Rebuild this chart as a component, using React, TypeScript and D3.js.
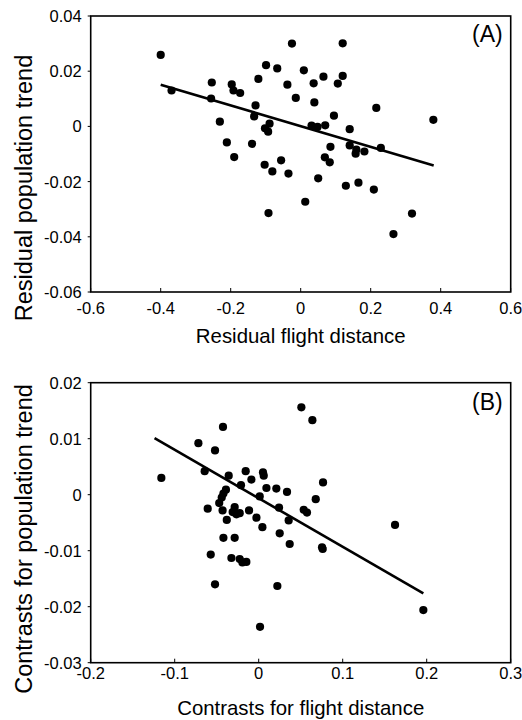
import React from 'react';
import * as d3 from 'd3';

// panel A: residuals
const aX = [-0.400, -0.369, -0.254, -0.256, -0.231, -0.211, -0.197, -0.192, -0.173, -0.190,
  -0.121, -0.129, -0.133, -0.139, -0.099, -0.067, -0.025, -0.038, -0.014, -0.102,
  -0.089, -0.093, -0.103, -0.081, -0.092, -0.056, -0.035, 0.009, 0.037, 0.039,
  0.065, 0.120, 0.120, 0.106, 0.095, 0.031, 0.048, 0.070, 0.140, 0.085,
  0.069, 0.083, 0.050, 0.013, 0.140, 0.159, 0.157, 0.182, 0.229, 0.216,
  0.129, 0.165, 0.209, 0.265, 0.318, 0.379];
const aY = [0.0259, 0.0130, 0.0159, 0.0101, 0.0017, -0.0058, 0.0152, 0.0130, 0.0121, -0.0111,
  0.0172, 0.0076, 0.0036, -0.0063, 0.0222, 0.0210, 0.0300, 0.0151, 0.0103, -0.0007,
  0.0010, -0.0019, -0.0139, -0.0163, -0.0314, -0.0123, -0.0171, 0.0203, 0.0156, 0.0087,
  0.0180, 0.0301, 0.0183, 0.0155, 0.0039, 0.0003, -0.0002, 0.0004, -0.0010, -0.0074,
  -0.0112, -0.0130, -0.0188, -0.0273, -0.0069, -0.0084, -0.0099, -0.0091, -0.0078, 0.0067,
  -0.0215, -0.0204, -0.0229, -0.0390, -0.0316, 0.0024];
const aFitX = [-0.400, 0.380];
const aFitY = [0.0151, -0.0142];
const aXTicks = [-0.6, -0.4, -0.2, 0, 0.2, 0.4, 0.6];
const aXLabels = ['-0.6', '-0.4', '-0.2', '0', '0.2', '0.4', '0.6'];
const aYTicks = [0.04, 0.02, 0, -0.02, -0.04, -0.06];
const aYLabels = ['0.04', '0.02', '0', '-0.02', '-0.04', '-0.06'];

// panel B: contrasts
const bX = [-0.1159, -0.0718, -0.0520, -0.0425, -0.0643, -0.0357, -0.0155, -0.0087, 0.0051, 0.0060,
  -0.0211, -0.0390, -0.0420, -0.0440, -0.0470, -0.0430, -0.0607, -0.0380, -0.0286, -0.0310,
  -0.0226, -0.0265, -0.0115, 0.0092, 0.0210, 0.0337, 0.0012, 0.0242, -0.0027, 0.0044,
  0.0357, 0.0250, 0.0369, 0.0536, 0.0575, -0.0420, -0.0286, -0.0571, -0.0325, -0.0226,
  -0.0194, -0.0147, -0.0520, 0.0222, 0.0016, 0.0508, 0.0639, 0.0766, 0.0679, 0.0754,
  0.0762, 0.1623, 0.1960];
const bY = [0.0030, 0.0092, 0.0079, 0.0121, 0.0042, 0.0034, 0.0042, 0.0027, 0.0040, 0.0034,
  0.0017, 0.0009, 0.0002, -0.0005, -0.0015, -0.0028, -0.0025, -0.0045, -0.0022, -0.0031,
  -0.0033, -0.0035, -0.0028, 0.0012, 0.0011, 0.0005, -0.0003, -0.0023, -0.0041, -0.0058,
  -0.0046, -0.0069, -0.0088, -0.0027, -0.0032, -0.0077, -0.0077, -0.0107, -0.0113, -0.0115,
  -0.0121, -0.0120, -0.0160, -0.0163, -0.0236, 0.0156, 0.0133, 0.0022, -0.0008, -0.0094,
  -0.0097, -0.0054, -0.0206];
const bFitX = [-0.124, 0.196];
const bFitY = [0.0101, -0.0176];
const bXTicks = [-0.2, -0.1, 0, 0.1, 0.2, 0.3];
const bXLabels = ['-0.2', '-0.1', '0', '0.1', '0.2', '0.3'];
const bYTicks = [0.02, 0.01, 0, -0.01, -0.02, -0.03];
const bYLabels = ['0.02', '0.01', '0', '-0.01', '-0.02', '-0.03'];

const font = 'Liberation Sans, Arial, Helvetica, sans-serif';

type PanelProps = {
  xs: number[]; ys: number[]; fitX: number[]; fitY: number[];
  xTicks: number[]; xLabels: string[]; yTicks: number[]; yLabels: string[];
  top: number; bottom: number; xLabelGap: number;
  tag: string; tagY: number; xTitle: string; xTitleY: number; yTitle: string; yTitleY: number;
};

const left = 90.7;
const right = 510.7;

function Panel(p: PanelProps) {
  const x = d3.scaleLinear().domain(d3.extent(p.xTicks) as [number, number]).range([left, right]);
  const y = d3.scaleLinear().domain(d3.extent(p.yTicks) as [number, number]).range([p.bottom, p.top]);
  const fit = d3.line<number>().x((d) => x(p.fitX[d])).y((d) => y(p.fitY[d]));

  return (
    <g fontFamily={font} fill="#000">
      <rect x={left} y={p.top} width={right - left} height={p.bottom - p.top}
        fill="none" stroke="#000" strokeWidth={1.6} />
      {p.xTicks.map((t, i) => (
        <g key={'x' + i}>
          <line x1={x(t)} x2={x(t)} y1={p.bottom} y2={p.bottom - 4} stroke="#000" strokeWidth={1} />
          <text x={x(t)} y={p.bottom + p.xLabelGap} textAnchor="middle" fontSize={16.5}>{p.xLabels[i]}</text>
        </g>
      ))}
      {p.yTicks.map((t, i) => (
        <g key={'y' + i}>
          <line x1={left - 3} x2={left} y1={y(t)} y2={y(t)} stroke="#000" strokeWidth={1} />
          <text x={81.7} y={y(t)} dy="0.36em" textAnchor="end" fontSize={16.5}>{p.yLabels[i]}</text>
        </g>
      ))}
      <path d={fit([0, 1]) || ''} stroke="#000" strokeWidth={2.6} fill="none" />
      {p.xs.map((v, i) => (
        <circle key={'p' + i} cx={x(v)} cy={y(p.ys[i])} r={4.1} fill="#000" />
      ))}
      <text x={502.7} y={p.tagY} textAnchor="end" fontSize={23}>{p.tag}</text>
      <text x={(left + right) / 2} y={p.xTitleY} textAnchor="middle" fontSize={20.4}>{p.xTitle}</text>
      <text transform={`translate(32,${p.yTitleY}) rotate(-90)`} textAnchor="middle" fontSize={23.5}>{p.yTitle}</text>
    </g>
  );
}

export default function App() {
  return (
    <svg width={522} height={720} style={{ position: 'absolute', left: 0, top: 0, background: '#fff' }}>
      <Panel xs={aX} ys={aY} fitX={aFitX} fitY={aFitY}
        xTicks={aXTicks} xLabels={aXLabels} yTicks={aYTicks} yLabels={aYLabels}
        top={16} bottom={292} xLabelGap={21.5}
        tag="(A)" tagY={42} xTitle="Residual flight distance" xTitleY={343}
        yTitle="Residual population trend" yTitleY={188} />
      <Panel xs={bX} ys={bY} fitX={bFitX} fitY={bFitY}
        xTicks={bXTicks} xLabels={bXLabels} yTicks={bYTicks} yLabels={bYLabels}
        top={382.7} bottom={662.7} xLabelGap={16}
        tag="(B)" tagY={410} xTitle="Contrasts for flight distance" xTitleY={715}
        yTitle="Contrasts for population trend" yTitleY={539} />
    </svg>
  );
}
